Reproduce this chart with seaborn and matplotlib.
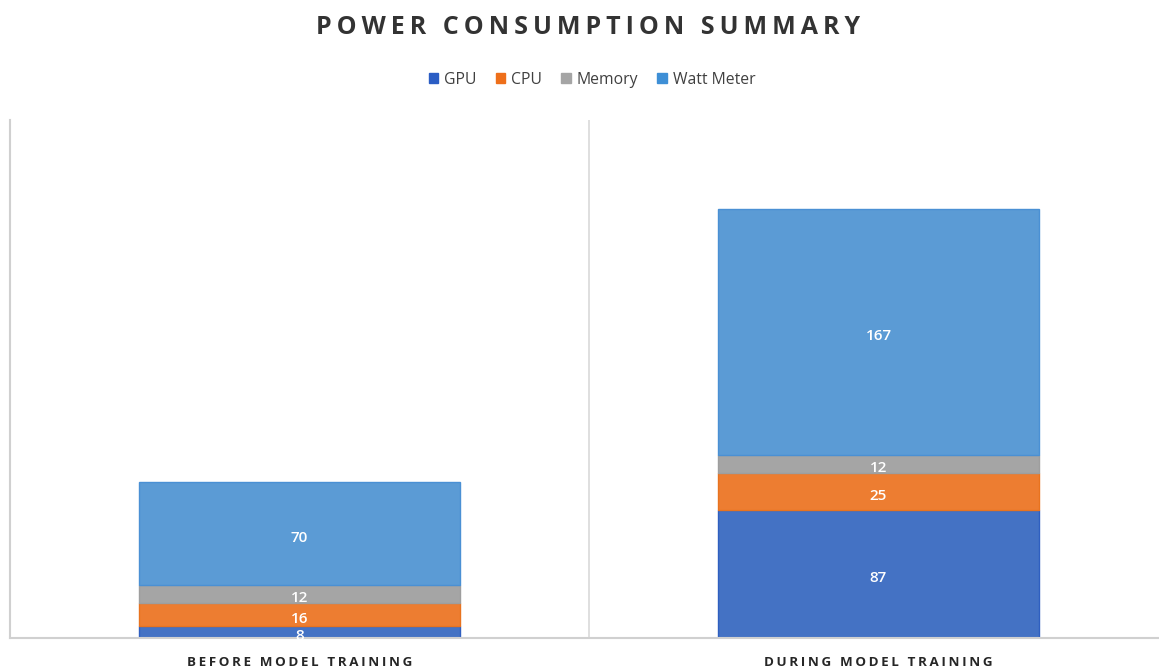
import matplotlib
matplotlib.use('Agg')
import matplotlib.pyplot as plt
from matplotlib.patches import Patch
import seaborn as sns
import numpy as np

# ── data ─────────────────────────────────────────────
categories = ['BEFORE MODEL TRAINING', 'DURING MODEL TRAINING']
series = ['GPU', 'CPU', 'Memory', 'Watt Meter']
gpu = [8, 87]
cpu = [16, 25]
memory = [12, 12]
watt_meter = [70, 167]
values = [gpu, cpu, memory, watt_meter]

COLORS = ['#4472C4', '#ED7D31', '#A5A5A5', '#5B9BD5']
EDGES = ['#2F5FC0', '#E8731F', '#9E9E9E', '#4A90D4']
LEGEND_COLORS = ['#2B5DC4', '#EE6F1A', '#A5A5A5', '#3E8FD6']

sns.set_style('white')
plt.rcParams['font.family'] = ['Open Sans', 'DejaVu Sans']

fig = plt.figure(figsize=(11.59, 6.68), dpi=100)
ax = fig.add_axes([10 / 1159, 1 - 638 / 668, 1158 / 1159, 518 / 668])

bottom = np.zeros(len(categories))
for name, vals, col, ec in zip(series, values, COLORS, EDGES):
    sns.barplot(x=categories, y=vals, bottom=bottom, color=col, width=0.556,
                edgecolor=ec, linewidth=1, saturation=1, ax=ax)
    bottom = bottom + np.array(vals)

for cont in ax.containers:
    labels = ax.bar_label(cont, label_type='center', color='white', fontsize=11,
                          fontweight='semibold')
    for t in labels:
        t.set_y(-3)  # nudge slightly lower, like the original

ax.set_xlim(-0.5, 1.5)
ax.set_ylim(0, 351.5)
ax.axvline(0.5, color='#D9D9D9', linewidth=1.2)
for s in ['top', 'right']:
    ax.spines[s].set_visible(False)
for s in ['left', 'bottom']:
    ax.spines[s].set_color('#D0D0D0')
    ax.spines[s].set_linewidth(1.5)
ax.set_yticks([])
ax.set_ylabel('')
ax.set_xticks([0, 1])
ax.set_xticklabels(['\u2009'.join(c) for c in categories], fontsize=9.6,
                   fontweight='bold', color='#262626')
ax.tick_params(axis='x', length=0, pad=13)

fig.text(588 / 1159, 1 - 28 / 668, '\u2009'.join('POWER CONSUMPTION SUMMARY'),
         ha='center', va='center', fontsize=18, fontweight='bold', color='#333333')

handles = [Patch(facecolor=c, edgecolor=c) for c in LEGEND_COLORS]
fig.legend(handles, series, loc='center', bbox_to_anchor=(592 / 1159, 1 - 80 / 668),
           ncol=4, frameon=False, fontsize=11.3, handlelength=0.6, handleheight=0.6,
           handletextpad=0.4, columnspacing=1.2, labelcolor='#404040')

fig.savefig('out.png', dpi=100)
